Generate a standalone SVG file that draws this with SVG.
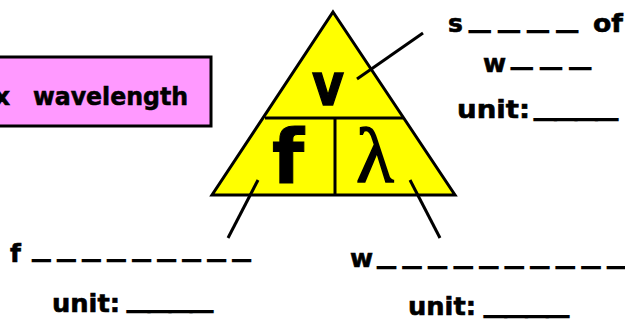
<svg xmlns="http://www.w3.org/2000/svg" width="625" height="320" viewBox="0 0 625 320">
<style>
.t{font-family:"DejaVu Sans","Liberation Sans",sans-serif;font-weight:bold;font-size:25px;fill:#000;stroke:#000;stroke-width:0.6}
.d{font-family:"Liberation Sans",Arial,sans-serif;font-weight:bold;font-size:28px;fill:#000;stroke:#000;stroke-width:2}
.ln{stroke:#000;stroke-width:3;fill:none;stroke-linecap:butt}
</style>
<rect width="625" height="320" fill="#fff"/>
<g id="equation-box">
<rect x="-5" y="57" width="216" height="69" fill="#FF99FF" stroke="#000" stroke-width="3"/>
<text class="t" x="-6" y="105">x</text>
<text class="t" x="33" y="105" textLength="155" lengthAdjust="spacingAndGlyphs">wavelength</text>
</g>
<g id="triangle">
<polygon points="333,12 455,195 212,195" fill="#FFFF00" stroke="#000" stroke-width="3" stroke-linejoin="miter"/>
<line class="ln" x1="265" y1="118" x2="403" y2="118"/>
<line class="ln" x1="335" y1="118" x2="335" y2="195"/>
<text class="t" x="328" y="105" text-anchor="middle" textLength="32" lengthAdjust="spacingAndGlyphs" style="font-size:58px;stroke-width:1.5">v</text>
<text class="t" x="288" y="183" text-anchor="middle" style="font-size:74px;stroke-width:1">f</text>
<text x="375" y="182" text-anchor="middle" style="font-family:'Liberation Serif','DejaVu Serif',serif;font-size:78px;fill:#000;stroke:#000;stroke-width:1.5">λ</text>
</g>
<g id="connectors">
<line class="ln" x1="423" y1="33" x2="357" y2="79"/>
<line class="ln" x1="258" y1="180" x2="228" y2="238"/>
<line class="ln" x1="410" y1="180" x2="440" y2="238"/>
</g>
<g id="label-speed">
<text class="t" x="448" y="32">s</text>
<text class="d" x="470" y="29" textLength="107" lengthAdjust="spacingAndGlyphs">_ _ _ _</text>
<text class="t" x="593" y="32" textLength="30" lengthAdjust="spacingAndGlyphs">of</text>
<text class="t" x="483" y="72">w</text>
<text class="d" x="512" y="65.5" textLength="78" lengthAdjust="spacingAndGlyphs">_ _ _</text>
<text class="t" x="457" y="118" textLength="73" lengthAdjust="spacingAndGlyphs">unit:</text>
<text class="d" x="535" y="116.5" textLength="82" lengthAdjust="spacingAndGlyphs">____</text>
</g>
<g id="label-frequency">
<text class="t" x="10" y="262">f</text>
<text class="d" x="33" y="258" textLength="217" lengthAdjust="spacingAndGlyphs">_ _ _ _ _ _ _ _ _</text>
<text class="t" x="52" y="312" textLength="68" lengthAdjust="spacingAndGlyphs">unit:</text>
<text class="d" x="128" y="309" textLength="84" lengthAdjust="spacingAndGlyphs">____</text>
</g>
<g id="label-wavelength">
<text class="t" x="350" y="267">w</text>
<text class="d" x="378" y="265" textLength="247" lengthAdjust="spacingAndGlyphs">_ _ _ _ _ _ _ _ _ _</text>
<text class="t" x="408" y="315" textLength="68" lengthAdjust="spacingAndGlyphs">unit:</text>
<text class="d" x="485" y="314" textLength="83" lengthAdjust="spacingAndGlyphs">____</text>
</g>
</svg>
